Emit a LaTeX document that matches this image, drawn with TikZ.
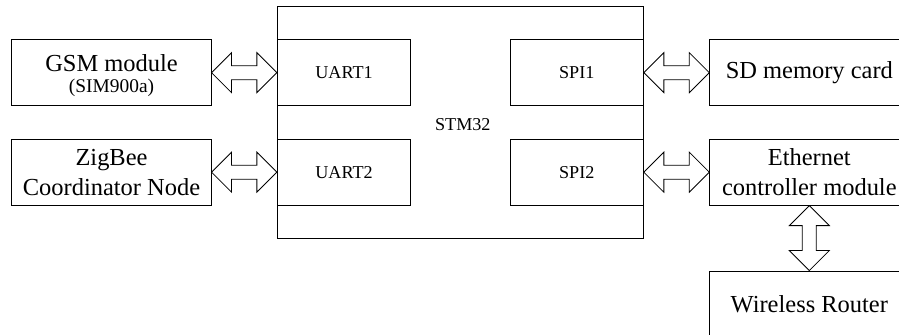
\documentclass[tikz,border=0pt]{standalone}
\usepackage{fontspec}
\setmainfont{Liberation Serif}
\usetikzlibrary{calc}
\tikzset{
  blk/.style={draw, rectangle, minimum width=4.98cm, minimum height=1.65cm,
    inner sep=0pt, align=center, font=\fontsize{17.4}{21.3}\selectfont},
  port/.style={draw, rectangle, minimum width=3.335cm, minimum height=1.65cm,
    inner sep=0pt, font=\fontsize{12.9}{15}\selectfont},
  fat/.style={line width=0.6pt, line join=miter}
}
% wide two-headed arrows between boxes
\newcommand{\hlink}[2]{%
  \draw[fat] (#1) -- ++(0.5,0.5) -- ++(0,-0.325) -- ($(#2)+(-0.5,0.175)$)
    -- ++(0,0.325) -- (#2) -- ++(-0.5,-0.5) -- ++(0,0.325)
    -- ($(#1)+(0.5,-0.175)$) -- ++(0,-0.325) -- cycle;}
\newcommand{\vlink}[2]{%
  \draw[fat] (#1) -- ++(0.5,-0.5) -- ++(-0.325,0) -- ($(#2)+(0.175,0.5)$)
    -- ++(0.325,0) -- (#2) -- ++(-0.5,0.5) -- ++(0.325,0)
    -- ($(#1)+(-0.175,-0.5)$) -- ++(-0.325,0) -- cycle;}
\begin{document}
\begin{tikzpicture}[line width=0.6pt]
  \clip (0,0) rectangle (22.475,8.375);
  % controller
  \node[draw, minimum width=9.15cm, minimum height=5.81cm, inner sep=0pt] (stm) at (11.508,5.32) {};
  \node[font=\fontsize{12.9}{15}\selectfont] (stmname) at (11.57,5.25) {STM32};
  \node[port] (uart1) at (8.6,6.558) {UART1};
  \node[port] (uart2) at (8.6,4.07) {UART2};
  \node[port] (spi1) at (14.418,6.558) {SPI1};
  \node[port] (spi2) at (14.418,4.07) {SPI2};
  % modules
  \node[blk] (gsm) at (2.788,6.558) {\rule{0pt}{16pt}GSM module\\[-6pt]{\fontsize{13.8}{16}\selectfont (SIM900a)}};
  \node[blk] (zigbee) at (2.788,4.07) {ZigBee\\Coordinator Node};
  \node[blk] (sd) at (20.233,6.558) {SD memory card};
  \node[blk] (eth) at (20.233,4.07) {Ethernet\\controller module};
  \node[blk] (router) at (20.233,0.775) {Wireless Router};
  % links
  \hlink{gsm.east}{uart1.west}
  \hlink{zigbee.east}{uart2.west}
  \hlink{spi1.east}{sd.west}
  \hlink{spi2.east}{eth.west}
  \vlink{eth.south}{router.north}
\end{tikzpicture}
\end{document}
